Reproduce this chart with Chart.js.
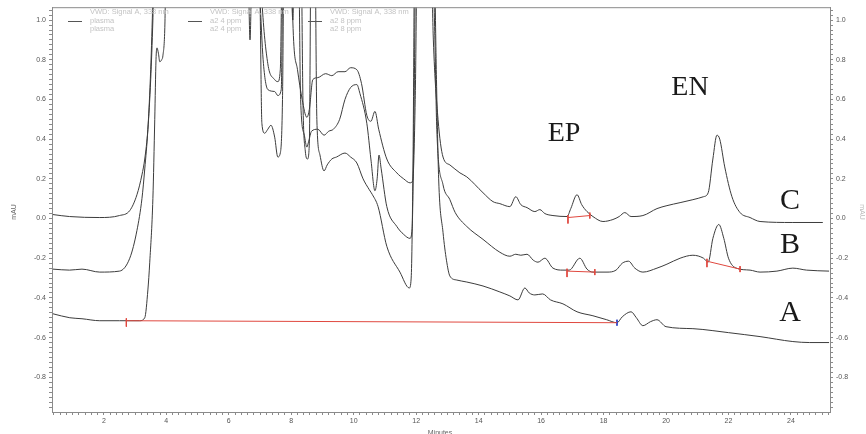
<!DOCTYPE html>
<html>
<head>
<meta charset="utf-8">
<script src="https://cdn.jsdelivr.net/npm/chart.js@4/dist/chart.umd.min.js"></script>
<style>
  html, body { margin: 0; padding: 0; background: #fff; }
  #wrap { width: 866px; height: 434px; }
</style>
</head>
<body>
<div id="wrap"><canvas id="chart" width="866" height="434"></canvas></div>
<script>
// trace A - plasma
const timeA = [0.37, 0.91, 1.3, 1.87, 2.5, 3.15, 3.31, 3.41, 3.47, 3.57, 3.63, 3.67, 3.70, 3.75, 3.79, 3.85, 3.89, 3.95, 4.02,
    6.9, 7.0, 7.06, 7.15, 7.25, 7.35, 7.47, 7.57, 7.65, 7.72, 7.78, 8.3, 8.38, 8.45, 8.52, 8.58, 8.64, 8.75, 8.82,
    8.92, 9.05, 9.15, 9.3, 9.45, 9.72, 9.9, 10.1, 10.3, 10.5, 10.6, 10.78, 11.06, 11.48, 11.78, 11.84, 11.9, 11.96,
    12.55, 12.65, 12.72, 12.86, 12.97, 13.08, 13.3, 13.62, 14.14, 14.68, 15.0, 15.26, 15.48, 15.62, 15.8, 16.05,
    16.3, 16.7, 17.15, 17.66, 18.1, 18.43, 18.6, 18.88, 19.05, 19.26, 19.5, 19.71, 20.0, 20.86, 21.5, 22.0, 23.01,
    24.06, 24.6, 25.22];
const valueA = [-0.48, -0.5, -0.505, -0.515, -0.515, -0.515, -0.5, -0.36, -0.22, 0.1, 0.5, 0.8, 0.86, 0.83, 0.79, 0.8, 0.82, 0.95, 1.5,
    1.5, 1.1, 0.48, 0.43, 0.45, 0.47, 0.41, 0.31, 0.33, 0.6, 1.5, 1.5, 0.55, 0.34, 0.3, 0.38, 1.5, 1.5, 0.5,
    0.32, 0.24, 0.27, 0.3, 0.31, 0.33, 0.31, 0.28, 0.2, 0.145, 0.12, 0.06, -0.14, -0.27, -0.35, -0.3, 0.3, 1.5,
    1.5, 0.7, 0.2, -0.07, -0.21, -0.29, -0.31, -0.32, -0.34, -0.37, -0.39, -0.41, -0.35, -0.375, -0.385, -0.38,
    -0.41, -0.43, -0.47, -0.49, -0.51, -0.525, -0.495, -0.47, -0.5, -0.54, -0.52, -0.51, -0.545, -0.555, -0.565, -0.575, -0.595,
    -0.62, -0.625, -0.625];

// trace B - a2 4 ppm
const timeB = [0.37, 0.9, 1.3, 1.87, 2.5, 2.83, 3.06, 3.22, 3.31, 3.41, 3.5, 3.57, 3.65, 6.85, 7.0, 7.1, 7.25, 7.47, 7.57,
    7.68, 7.75, 7.95, 8.05, 8.12, 8.22, 8.3, 8.42, 8.5, 8.56, 8.65, 8.85, 9.05, 9.2, 9.35, 9.55, 9.72, 9.9, 10.1,
    10.2, 10.42, 10.55, 10.68, 10.75, 10.81, 10.88, 11.06, 11.38, 11.6, 11.8, 11.87, 11.93, 12.0, 12.5, 12.6, 12.66,
    12.86, 13.08, 13.25, 13.62, 14.14, 14.68, 15.0, 15.19, 15.35, 15.55, 15.75, 15.9, 16.12, 16.38, 16.7, 16.9,
    17.24, 17.47, 17.66, 18.11, 18.4, 18.6, 18.8, 19.0, 19.26, 19.71, 20.03, 20.45, 20.86, 21.2, 21.35, 21.5,
    21.69, 21.85, 22.0, 22.25, 22.69, 23.01, 23.55, 24.06, 24.5, 25.22];
const valueB = [-0.255, -0.26, -0.255, -0.27, -0.265, -0.2, -0.06, 0.1, 0.25, 0.45, 0.75, 1.1, 1.5, 1.5, 1.1, 0.8, 0.65, 0.64, 0.62,
    0.65, 1.5, 1.5, 1.0, 1.5, 1.5, 0.6, 0.42, 0.36, 0.39, 0.44, 0.45, 0.42, 0.44, 0.45, 0.5, 0.6, 0.66, 0.675,
    0.63, 0.48, 0.3, 0.14, 0.2, 0.32, 0.25, 0.06, -0.04, -0.08, -0.1, -0.05, 0.5, 1.5, 1.5, 0.9, 0.45,
    0.17, 0.095, 0.03, -0.04, -0.105, -0.17, -0.19, -0.18, -0.185, -0.18, -0.21, -0.22, -0.2, -0.25, -0.26, -0.26,
    -0.2, -0.255, -0.27, -0.27, -0.26, -0.225, -0.215, -0.25, -0.27, -0.25, -0.23, -0.2, -0.185, -0.2, -0.22, -0.1,
    -0.03, -0.1, -0.2, -0.25, -0.26, -0.27, -0.265, -0.25, -0.26, -0.265];

// trace C - a2 8 ppm
const timeC = [0.37, 0.9, 1.87, 2.5, 2.83, 3.06, 3.22, 3.31, 3.41, 3.5, 3.57, 3.65, 6.55, 6.63, 6.68, 6.73, 6.8, 6.95, 7.06,
    7.25, 7.47, 7.57, 7.65, 7.73, 7.9, 8.0, 8.05, 8.2, 8.35, 8.5, 8.58, 8.69, 8.85, 9.1, 9.3, 9.5, 9.72, 9.9, 10.1,
    10.25, 10.42, 10.55, 10.68, 10.8, 11.06, 11.38, 11.6, 11.8, 11.89, 11.97, 12.05, 12.45, 12.55, 12.7, 12.86,
    13.08, 13.4, 13.62, 14.14, 14.46, 14.68, 15.0, 15.19, 15.35, 15.55, 15.8, 15.96, 16.12, 16.38, 16.83, 16.95,
    17.15, 17.3, 17.47, 17.66, 17.98, 18.3, 18.5, 18.68, 18.88, 19.26, 19.71, 20.03, 20.45, 20.86, 21.2, 21.35,
    21.5, 21.63, 21.72, 21.88, 22.11, 22.37, 22.69, 23.01, 24.06, 25.02];
const valueC = [0.02, 0.01, 0.005, 0.015, 0.04, 0.12, 0.22, 0.3, 0.45, 0.7, 1.0, 1.5, 1.5, 1.2, 0.9, 1.2, 1.5, 1.5, 1.1,
    0.78, 0.7, 0.69, 0.75, 1.5, 1.5, 1.5, 1.0, 0.75, 0.6, 0.51, 0.55, 0.7, 0.71, 0.73, 0.72, 0.74, 0.74, 0.76, 0.75,
    0.68, 0.52, 0.49, 0.54, 0.45, 0.3, 0.23, 0.2, 0.18, 0.19, 0.6, 1.5, 1.5, 0.9, 0.5, 0.31,
    0.27, 0.23, 0.21, 0.13, 0.085, 0.075, 0.06, 0.11, 0.07, 0.055, 0.035, 0.045, 0.025, 0.015, 0.01, 0.05,
    0.12, 0.07, 0.035, 0.01, -0.015, -0.005, 0.01, 0.03, 0.01, 0.015, 0.05, 0.065, 0.08, 0.095, 0.11, 0.13,
    0.3, 0.42, 0.4, 0.26, 0.11, 0.03, 0.005, -0.015, -0.02, -0.02];

// integration baselines (start/end time and level)
const baseStart = [2.72, 16.86, 16.83, 21.31];
const baseEnd = [18.43, 17.56, 17.72, 22.37];
const baseStartVal = [-0.515, 0.005, -0.265, -0.215];
const baseEndVal = [-0.525, 0.015, -0.27, -0.255];

const xTicksMajor = [2, 4, 6, 8, 10, 12, 14, 16, 18, 20, 22, 24];
const yTicksMajor = [-0.8, -0.6, -0.4, -0.2, 0.0, 0.2, 0.4, 0.6, 0.8, 1.0];

const legendTitles = ['VWD: Signal A, 338 nm', 'VWD: Signal A, 338 nm', 'VWD: Signal A, 338 nm'];
const legendNames = ['plasma', 'a2 4 ppm', 'a2 8 ppm'];

const traceColor = '#3c3c3c';
const axisColor = '#8a8a8a';
const markRed = '#e0483f';

const toPoints = (ts, vs) => ts.map((t, i) => ({ x: t, y: vs[i] }));

function traceSet(ts, vs) {
    return {
        data: toPoints(ts, vs),
        borderColor: traceColor,
        borderWidth: 1,
        pointRadius: 0,
        cubicInterpolationMode: 'monotone',
        fill: false
    };
}

function segSet(points, color) {
    return {
        data: points,
        borderColor: color,
        borderWidth: 1,
        pointRadius: 0,
        tension: 0,
        fill: false
    };
}

const datasets = [];
baseStart.forEach((s, i) => {
    datasets.push(segSet([{ x: s, y: baseStartVal[i] }, { x: baseEnd[i], y: baseEndVal[i] }], markRed));
    datasets.push(segSet([{ x: s, y: baseStartVal[i] + 0.012 }, { x: s, y: baseStartVal[i] - 0.03 }], markRed));
    const endColor = i === 0 ? '#2a3fc4' : markRed;
    datasets.push(segSet([{ x: baseEnd[i], y: baseEndVal[i] + 0.015 }, { x: baseEnd[i], y: baseEndVal[i] - 0.015 }], endColor));
});
datasets.push(traceSet(timeA, valueA));
datasets.push(traceSet(timeB, valueB));
datasets.push(traceSet(timeC, valueC));

function stepTicks(from, to, step) {
    const out = [];
    for (let v = from; v <= to + 1e-9; v += step) out.push({ value: Math.round(v * 1000) / 1000 });
    return out;
}

const isMajor = (v, list) => list.some(m => Math.abs(m - v) < 1e-6);

const yLabel = v => isMajor(v, yTicksMajor) ? (Math.abs(v) < 1e-6 ? '0.0' : v.toFixed(1)) : '';

const extras = {
    id: 'extras',
    afterDraw(chart) {
        const { ctx, chartArea: a } = chart;
        ctx.save();
        // top frame line
        ctx.strokeStyle = axisColor;
        ctx.lineWidth = 1;
        ctx.beginPath();
        ctx.moveTo(a.left, a.top + 0.5);
        ctx.lineTo(a.right, a.top + 0.5);
        ctx.stroke();

        // legend
        const lx = [68, 188, 308];
        lx.forEach((x, i) => {
            ctx.strokeStyle = '#555';
            ctx.beginPath();
            ctx.moveTo(x, 21.5);
            ctx.lineTo(x + 14, 21.5);
            ctx.stroke();
            ctx.fillStyle = '#c4c4c4';
            ctx.font = '7.5px "Liberation Sans", Arial, sans-serif';
            ctx.textAlign = 'left';
            ctx.textBaseline = 'middle';
            ctx.fillText(legendTitles[i], x + 22, 12);
            ctx.fillText(legendNames[i], x + 22, 21);
            ctx.fillText(legendNames[i], x + 22, 29);
        });

        // axis titles
        ctx.fillStyle = '#666';
        ctx.font = '7px "Liberation Sans", Arial, sans-serif';
        ctx.textAlign = 'center';
        ctx.textBaseline = 'middle';
        ctx.save();
        ctx.translate(14, 212);
        ctx.rotate(-Math.PI / 2);
        ctx.fillText('mAU', 0, 0);
        ctx.restore();
        ctx.fillStyle = '#bbb';
        ctx.save();
        ctx.translate(862, 212);
        ctx.rotate(Math.PI / 2);
        ctx.fillText('mAU', 0, 0);
        ctx.restore();
        ctx.fillStyle = '#666';
        ctx.fillText('Minutes', 440, 433);

        // peak / trace labels
        ctx.fillStyle = '#1a1a1a';
        ctx.font = '28px "Liberation Serif", "DejaVu Serif", serif';
        ctx.textBaseline = 'alphabetic';
        ctx.fillText('EP', 564, 141);
        ctx.fillText('EN', 690, 95);
        ctx.font = '30px "Liberation Serif", "DejaVu Serif", serif';
        ctx.fillText('C', 790, 209);
        ctx.fillText('B', 790, 253);
        ctx.fillText('A', 790, 321);
        ctx.restore();
    }
};

const axisGrid = { drawOnChartArea: false, tickLength: 3, color: axisColor, tickColor: axisColor };
const tickFont = { size: 7, family: '"Liberation Sans", Arial, sans-serif' };

new Chart(document.getElementById('chart'), {
    type: 'line',
    data: { datasets },
    options: {
        responsive: false,
        animation: false,
        events: [],
        layout: { padding: { top: 7, left: 0, right: 0, bottom: 0 } },
        plugins: { legend: { display: false }, tooltip: { enabled: false } },
        scales: {
            x: {
                type: 'linear',
                min: 0.34,
                max: 25.25,
                afterFit(scale) { scale.height = 22; },
                afterBuildTicks(scale) { scale.ticks = stepTicks(0.4, 25.2, 0.2); },
                ticks: {
                    autoSkip: false,
                    maxRotation: 0,
                    padding: 2,
                    color: '#555',
                    font: tickFont,
                    callback: v => isMajor(v, xTicksMajor) ? String(Math.round(v)) : ''
                },
                grid: axisGrid,
                border: { color: axisColor, width: 1 }
            },
            y: {
                min: -0.975,
                max: 1.065,
                position: 'left',
                afterFit(scale) { scale.width = 52; },
                afterBuildTicks(scale) { scale.ticks = stepTicks(-0.95, 1.05, 0.025); },
                ticks: { autoSkip: false, padding: 3, color: '#555', font: tickFont, callback: yLabel },
                grid: axisGrid,
                border: { color: axisColor, width: 1 }
            },
            y2: {
                min: -0.975,
                max: 1.065,
                position: 'right',
                afterFit(scale) { scale.width = 36; },
                afterBuildTicks(scale) { scale.ticks = stepTicks(-0.95, 1.05, 0.025); },
                ticks: { autoSkip: false, padding: 3, color: '#555', font: tickFont, callback: yLabel },
                grid: axisGrid,
                border: { color: axisColor, width: 1 }
            }
        }
    },
    plugins: [extras]
});
</script>
</body>
</html>
